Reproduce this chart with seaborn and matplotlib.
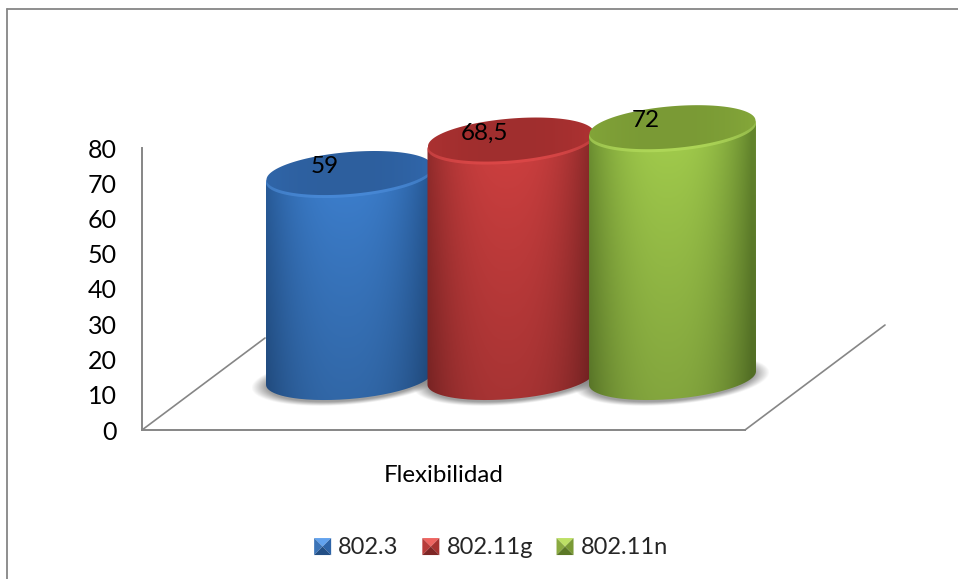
import numpy as np
import pandas as pd
import seaborn as sns
from matplotlib import pyplot as plt
from matplotlib.colors import to_rgb
from matplotlib.legend_handler import HandlerBase
from matplotlib.lines import Line2D
from matplotlib.patches import Patch, Polygon
from matplotlib.path import Path

W, H = 958, 579

categories = ['Flexibilidad']
series = ['802.3', '802.11g', '802.11n']
values = [59, 68.5, 72]
y_ticks = [0, 10, 20, 30, 40, 50, 60, 70, 80]

base_colors = ['#2e6ab0', '#b83434', '#8ab040']
centre_colors = ['#3f84d6', '#d64242', '#a8d44f']
edge_colors = ['#275a98', '#8e2a2a', '#678a2e']
face_colors = ['#2d5f9e', '#a02e2e', '#7a9a35']
rim_colors = ['#4f90de', '#e64d4d', '#b8e060']
swatch_colors = [
    ['#62a2ee', '#3b74b8', '#2e64a8', '#234f85'],
    ['#ee6460', '#b83c3a', '#a63230', '#7e2625'],
    ['#bde065', '#8aaa40', '#7a9a35', '#5c7826'],
]

sns.set_theme(style='white')
plt.rcParams['font.family'] = ['Lato', 'DejaVu Sans']

df = pd.DataFrame({'cat': categories * 3, 'serie': series, 'valor': values})


def px_x(x):
    return x / W


def px_y(y):
    return 1 - y / H


fig = plt.figure(figsize=(W / 100, H / 100), dpi=100, facecolor='white')
ax = fig.add_axes([px_x(142), px_y(430), px_x(745 - 142), (430 - 148) / H])
ax.patch.set_alpha(0)

sns.barplot(data=df, x='cat', y='valor', hue='serie', palette=base_colors,
            width=0.8, legend=False, ax=ax)

# px per data unit, bars are 0.8 wide in total and sit at 511 px
kx = 161.5 * 3 / 0.8
ky = (430 - 148) / 80
ax.set_xlim(-(511 - 142) / kx, (745 - 511) / kx)
ax.set_ylim(0, 80)

lift = 52 / ky   # the cylinders stand on the floor, not on the axis line
half_w = 84 / kx
tilt = 0.08
ell_b = 21


def ellipse(cx, cy, b=ell_b, a=83.5, start=0, stop=2 * np.pi, n=120):
    t = np.linspace(start, stop, n)
    dx = a * np.cos(t)
    dy = b * np.sin(t) + tilt * a * np.cos(t)
    return np.column_stack([cx + dx / kx, cy + dy / ky])


def paint(outline, left, right, low, high, centre, edge, shade, zorder):
    xs = np.linspace(-1, 1, 200)
    ys = np.linspace(0, 1, 120)
    prof = np.clip(1 - np.abs(xs + 0.05) ** 2.4, 0, 1)[None, :, None]
    fade = (1 - shade * (ys ** 0.8))[:, None, None]
    rgb = (np.array(edge) + (np.array(centre) - np.array(edge)) * prof) * fade
    im = ax.imshow(np.clip(rgb, 0, 1), extent=[left, right, low, high], aspect='auto',
                   interpolation='bilinear', zorder=zorder)
    im.set_clip_path(Path(outline), ax.transData)
    im.set_clip_box(fig.bbox)


def shadow(cx, cy, zorder):
    xs = np.linspace(-110, 110, 220)
    ys = np.linspace(34, -34, 100)
    gx, gy = np.meshgrid(xs, ys)
    r = np.sqrt((gx / 98) ** 2 + ((gy - tilt * gx) / 25) ** 2)
    alpha = np.clip((1 - r) / 0.16, 0, 1) * 0.65
    rgba = np.zeros(gx.shape + (4,))
    rgba[..., :3] = 0.42
    rgba[..., 3] = alpha
    im = ax.imshow(rgba, extent=[cx - 110 / kx, cx + 110 / kx, cy - 34 / ky, cy + 34 / ky],
                   aspect='auto', interpolation='bilinear', zorder=zorder)
    im.set_clip_box(fig.bbox)


bars = [p for p in ax.patches]
for i, bar in enumerate(bars):
    bar.set_visible(False)
    cx = bar.get_x() + bar.get_width() / 2
    top = bar.get_height() + lift
    z = 3 + i
    shadow(cx, lift - 2 / ky, 2)

    # body ends a little under the top face so a light rim shows
    rim_y = top - 6 / ky
    lower = ellipse(cx, lift, start=np.pi, stop=2 * np.pi)
    upper = ellipse(cx, rim_y, start=0, stop=np.pi)
    body = np.vstack([lower, upper])
    paint(body, cx - half_w, cx + half_w, lift - 25 / ky, top + 25 / ky,
          to_rgb(centre_colors[i]), to_rgb(edge_colors[i]), 0.22, z)

    ax.add_patch(Polygon(ellipse(cx, rim_y), closed=True, facecolor=rim_colors[i], edgecolor='none',
                         alpha=0.6, clip_on=False, zorder=z + 0.1))
    face = ellipse(cx, top - 3 / ky, b=ell_b, a=83)
    paint(face, cx - half_w, cx + half_w, top - 30 / ky, top + 24 / ky,
          to_rgb(face_colors[i]), tuple(c * 1.08 for c in to_rgb(face_colors[i])), 0.0, z + 0.2)

    shift = [(-25, 4), (-26, 3), (-27, 4)][i]
    ax.annotate(f'{values[i]:g}'.replace('.', ','), (cx, top), xytext=shift, textcoords='offset pixels',
                ha='center', va='center', fontsize=17.5, color='black', annotation_clip=False, zorder=20)

ax.set_xlim(-(511 - 142) / kx, (745 - 511) / kx)
ax.set_ylim(0, 80)

sns.despine(ax=ax)
ax.spines['left'].set_color('#868686')
ax.spines['bottom'].set_color('#868686')
ax.spines['left'].set_linewidth(1.4)
ax.spines['bottom'].set_linewidth(1.4)
ax.set_yticks(y_ticks)
ax.set_xticks([sum(ax.get_xlim()) / 2], labels=categories)
ax.tick_params(axis='y', length=0, pad=18, labelsize=18, labelcolor='black')
ax.tick_params(axis='x', length=0, pad=25.5, labelsize=17.4, labelcolor='black')
ax.set_xlabel('')
ax.set_ylabel('')

# frame and floor
for (x0, y0), (x1, y1), lw in [((7, 9), (W, 9), 1.3), ((7, 9), (7, H), 1.3),
                               ((142, 430), (265, 338), 1.2), ((745, 430), (885, 325), 1.2)]:
    fig.add_artist(Line2D([px_x(x0), px_x(x1)], [px_y(y0), px_y(y1)], color='#868686', lw=lw, zorder=-1))


class Bevel(HandlerBase):
    def create_artists(self, legend, orig, xd, yd, width, height, fontsize, trans):
        cols = orig.bevel
        x0, y0 = -xd, -yd - 1
        s = width
        mid = (x0 + s / 2, y0 + s / 2)
        a, b, c, d = (x0, y0 + s), (x0 + s, y0 + s), (x0 + s, y0), (x0, y0)
        tris = [(a, b, cols[0]), (d, a, cols[1]), (b, c, cols[2]), (c, d, cols[3])]
        return [Polygon([p, q, mid], closed=True, facecolor=col, edgecolor='none', transform=trans)
                for p, q, col in tris]


handles = []
for name, cols in zip(series, swatch_colors):
    h = Patch(label=name)
    h.bevel = cols
    handles.append(h)

ax.legend(handles=handles, loc='center', bbox_to_anchor=(px_x(491), px_y(547)),
          bbox_transform=fig.transFigure, ncol=3, frameon=False, fontsize=17,
          handler_map={Patch: Bevel()}, handlelength=0.72, handleheight=0.72,
          handletextpad=0.3, columnspacing=1.0, borderpad=0, borderaxespad=0)

plt.savefig('out.png', dpi=100)
